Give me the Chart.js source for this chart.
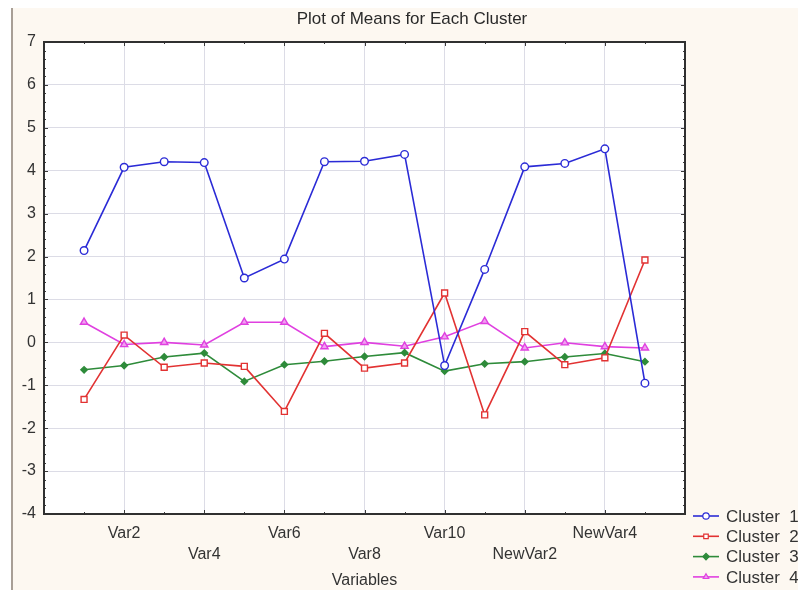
<!DOCTYPE html>
<html>
<head>
<meta charset="utf-8">
<script src="https://cdn.jsdelivr.net/npm/chart.js@4.4.1/dist/chart.umd.min.js"></script>
<style>
  html, body { margin: 0; padding: 0; background: #ffffff; }
  #wrap { position: absolute; left: 0; top: 0; width: 798px; height: 590px; }
  #edge { position: absolute; left: 11px; top: 8px; width: 2px; height: 582px; background: #a89f96; }
  #box { position: absolute; left: 13px; top: 8px; width: 785px; height: 582px; background: #fdf8f1; }
  canvas { position: absolute; left: 0; top: 0; }
</style>
</head>
<body>
<div id="wrap">
  <div id="edge"></div>
  <div id="box"></div>
  <canvas id="c" width="798" height="590"></canvas>
</div>
<script>
// Variables on the x axis (only every second one gets a label)
const variables = ['Var1', 'Var2', 'Var3', 'Var4', 'Var5', 'Var6', 'Var7', 'Var8',
  'Var9', 'Var10', 'NewVar1', 'NewVar2', 'NewVar3', 'NewVar4', 'NewVar5'];

const seriesNames = ['Cluster  1', 'Cluster  2', 'Cluster  3', 'Cluster  4'];

const cluster1 = [2.14, 4.08, 4.21, 4.19, 1.50, 1.94, 4.21, 4.22, 4.38, -0.54, 1.70, 4.09, 4.17, 4.51, -0.95];
const cluster2 = [-1.33, 0.17, -0.58, -0.48, -0.56, -1.61, 0.21, -0.60, -0.48, 1.15, -1.69, 0.25, -0.52, -0.36, 1.92];
const cluster3 = [-0.64, -0.54, -0.34, -0.25, -0.91, -0.52, -0.44, -0.33, -0.24, -0.67, -0.50, -0.45, -0.34, -0.26, -0.45];
const cluster4 = [0.47, -0.05, 0.00, -0.06, 0.47, 0.47, -0.10, 0.00, -0.09, 0.13, 0.49, -0.13, -0.01, -0.10, -0.13];

const yTicks = [-4, -3, -2, -1, 0, 1, 2, 3, 4, 5, 6, 7];

const FONT = '"Liberation Sans", Arial, sans-serif';
const TEXT = '#333333';

function toPoints(values) {
  return values.map((v, i) => ({ x: i, y: v }));
}

const styles = [
  { color: '#2b2bd6', point: 'circle', fill: '#ffffff', radius: 3.8 },
  { color: '#e23232', point: 'rect', fill: '#ffffff', radius: 4.2 },
  { color: '#2e8b3a', point: 'rectRot', fill: '#2e8b3a', radius: 3.2 },
  { color: '#e040e0', point: 'triangle', fill: '#f0a0f0', radius: 4.2 }
];

const allSeries = [cluster1, cluster2, cluster3, cluster4];

const datasets = allSeries.map((vals, k) => ({
  label: seriesNames[k],
  data: toPoints(vals),
  borderColor: styles[k].color,
  backgroundColor: styles[k].fill,
  borderWidth: 1.6,
  pointStyle: styles[k].point,
  pointRadius: styles[k].radius,
  pointBorderWidth: 1.4,
  pointBorderColor: styles[k].color,
  pointBackgroundColor: styles[k].fill,
  tension: 0,
  fill: false
}));

// white plotting area
const plotBackground = {
  id: 'plotBackground',
  beforeDraw(chart) {
    const { ctx, chartArea: a } = chart;
    ctx.save();
    ctx.fillStyle = '#ffffff';
    ctx.fillRect(a.left, a.top, a.right - a.left, a.bottom - a.top);
    ctx.restore();
  }
};

// frame around the plot with inward tick marks on all four sides
const frame = {
  id: 'frame',
  afterDatasetsDraw(chart) {
    const { ctx, chartArea: a, scales } = chart;
    const xs = scales.x, ys = scales.y;
    ctx.save();
    ctx.strokeStyle = '#3a3a3a';
    ctx.lineWidth = 1;
    ctx.beginPath();
    for (let i = 0; i < variables.length; i++) {
      const px = Math.round(xs.getPixelForValue(i)) + 0.5;
      const len = (i % 2 === 1) ? 4 : 2;
      ctx.moveTo(px, a.bottom); ctx.lineTo(px, a.bottom - len);
      ctx.moveTo(px, a.top); ctx.lineTo(px, a.top + len);
    }
    const yMin = yTicks[0], yMax = yTicks[yTicks.length - 1];
    for (let s = 0; s <= (yMax - yMin) * 5; s++) {
      const v = yMin + s / 5;
      const py = Math.round(ys.getPixelForValue(v)) + 0.5;
      const len = (s % 5 === 0) ? 4 : 2;
      ctx.moveTo(a.left, py); ctx.lineTo(a.left + len, py);
      ctx.moveTo(a.right, py); ctx.lineTo(a.right - len, py);
    }
    ctx.stroke();
    ctx.lineWidth = 2;
    ctx.strokeStyle = '#303030';
    ctx.strokeRect(a.left, a.top, a.right - a.left, a.bottom - a.top);
    ctx.restore();
  }
};

// title and legend
const annotations = {
  id: 'annotations',
  afterDraw(chart) {
    const { ctx } = chart;
    ctx.save();
    ctx.fillStyle = '#2a2a2a';
    ctx.font = '17px ' + FONT;
    ctx.textAlign = 'center';
    ctx.textBaseline = 'middle';
    ctx.fillText('Plot of Means for Each Cluster', 412, 19);

    chart.data.datasets.forEach((ds, k) => {
      const y = 516 + k * 20.3;
      const x0 = 693, x1 = 719, xm = 706;
      ctx.strokeStyle = ds.borderColor;
      ctx.lineWidth = 1.6;
      ctx.beginPath();
      ctx.moveTo(x0, y); ctx.lineTo(x1, y);
      ctx.stroke();
      ctx.fillStyle = ds.pointBackgroundColor;
      ctx.strokeStyle = ds.pointBorderColor;
      ctx.lineWidth = 1.2;
      Chart.helpers.drawPoint(ctx, { pointStyle: ds.pointStyle, radius: 3.2, borderWidth: 1.2 }, xm, y);
      ctx.fillStyle = TEXT;
      ctx.font = '17px ' + FONT;
      ctx.textAlign = 'left';
      ctx.fillText(ds.label, 726, y + 1);
    });
    ctx.restore();
  }
};

new Chart(document.getElementById('c'), {
  type: 'line',
  data: { datasets },
  options: {
    responsive: false,
    animation: false,
    devicePixelRatio: 1,
    layout: { padding: { left: 0, top: 42, right: 113, bottom: 0 } },
    plugins: {
      legend: { display: false },
      title: { display: false },
      tooltip: { enabled: false }
    },
    scales: {
      x: {
        type: 'linear',
        min: -1,
        max: variables.length,
        afterBuildTicks(scale) {
          const t = [];
          for (let i = -1; i <= variables.length; i++) t.push({ value: i });
          scale.ticks = t;
        },
        afterFit(scale) { scale.height = 76; },
        border: { display: false },
        grid: {
          drawTicks: false,
          color: (c) => (c.tick && c.tick.value % 2 === 1 && c.tick.value > 0 && c.tick.value < variables.length) ? '#dcdce6' : 'rgba(0,0,0,0)',
          lineWidth: 1
        },
        ticks: {
          autoSkip: false,
          maxRotation: 0,
          minRotation: 0,
          padding: 9,
          color: TEXT,
          font: { family: FONT, size: 16, lineHeight: 1.3 },
          callback(v) {
            if (v < 0 || v >= variables.length || v % 2 !== 1) return '';
            const name = variables[v];
            return ((v - 1) / 2) % 2 === 0 ? name : ['', name];
          }
        },
        title: {
          display: true,
          text: 'Variables',
          color: TEXT,
          font: { family: FONT, size: 16 },
          padding: { top: 0, bottom: 0 }
        }
      },
      y: {
        min: yTicks[0],
        max: yTicks[yTicks.length - 1],
        afterBuildTicks(scale) {
          scale.ticks = yTicks.map(v => ({ value: v }));
        },
        afterFit(scale) { scale.width = 44; },
        border: { display: false },
        grid: {
          drawTicks: false,
          color: '#dcdce6',
          lineWidth: 1
        },
        ticks: {
          padding: 8,
          color: TEXT,
          font: { family: FONT, size: 16 }
        }
      }
    }
  },
  plugins: [plotBackground, frame, annotations]
});
</script>
</body>
</html>
